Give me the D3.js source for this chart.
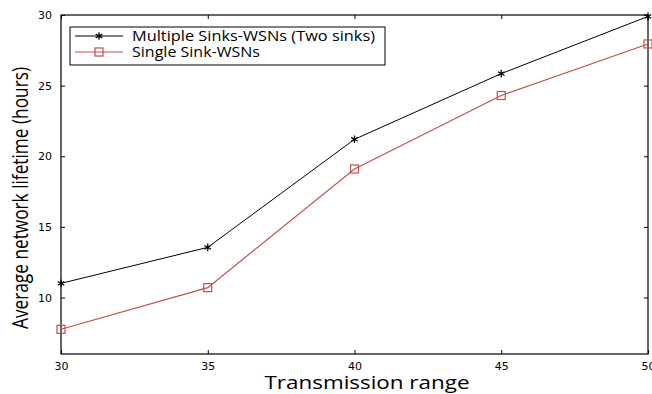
<!DOCTYPE html>
<html>
<head>
<meta charset="utf-8">
<script src="https://cdn.jsdelivr.net/npm/d3@7"></script>
<style>
  body { margin: 0; background: #fff; }
  svg { display: block; }
</style>
</head>
<body>
<script>
// data
const ranges = [30, 35, 40, 45, 50];
const multiSink = [11.0, 13.55, 21.2, 25.85, 29.9];
const singleSink = [7.75, 10.7, 19.1, 24.3, 27.95];
const xTicks = [30, 35, 40, 45, 50];
const yTicks = [10, 15, 20, 25, 30];
const seriesNames = ["Multiple Sinks-WSNs (Two sinks)", "Single Sink-WSNs"];

const width = 652, height = 394;
const margin = { top: 15, right: 4, bottom: 40, left: 61 };

const svg = d3.select("body").append("svg")
  .attr("width", width)
  .attr("height", height);

const x = d3.scaleLinear().domain([30, 50]).range([margin.left, width - margin.right]);
const y = d3.scaleLinear().domain([6, 30]).range([height - margin.bottom, margin.top]);

const tickFont = "11px 'DejaVu Sans', sans-serif";

// box
svg.append("rect")
  .attr("x", x(30)).attr("y", y(30))
  .attr("width", x(50) - x(30)).attr("height", y(6) - y(30))
  .attr("fill", "none").attr("stroke", "#000").attr("stroke-width", 1.2);

// axes with inward ticks
const xAxis = svg.append("g")
  .attr("transform", `translate(0,${y(6)})`)
  .call(d3.axisBottom(x).tickValues(xTicks).tickSizeInner(-4).tickSizeOuter(0).tickPadding(8));
const xTop = svg.append("g")
  .attr("transform", `translate(0,${y(30)})`)
  .call(d3.axisTop(x).tickValues(xTicks).tickSizeInner(-4).tickSizeOuter(0).tickFormat(""));
const yAxis = svg.append("g")
  .attr("transform", `translate(${x(30)},0)`)
  .call(d3.axisLeft(y).tickValues(yTicks).tickSizeInner(-4).tickSizeOuter(0).tickPadding(9));
const yRight = svg.append("g")
  .attr("transform", `translate(${x(50)},0)`)
  .call(d3.axisRight(y).tickValues(yTicks).tickSizeInner(-4).tickSizeOuter(0).tickFormat(""));

[xAxis, xTop, yAxis, yRight].forEach(g => {
  g.select(".domain").remove();
  g.selectAll("text").style("font", tickFont).attr("fill", "#000");
});

// axis titles
svg.append("text")
  .attr("x", 367).attr("y", 389)
  .attr("text-anchor", "middle")
  .style("font", "18px 'Open Sans', sans-serif")
  .attr("textLength", 205).attr("lengthAdjust", "spacingAndGlyphs")
  .text("Transmission range");

svg.append("text")
  .attr("transform", `translate(28,198) rotate(-90)`)
  .attr("text-anchor", "middle")
  .style("font", "21px 'Open Sans', sans-serif")
  .attr("textLength", 262).attr("lengthAdjust", "spacingAndGlyphs")
  .text("Average network lifetime (hours)");

// lines
const line = d3.line().x((d, i) => x(ranges[i])).y(d => y(d));

svg.append("path").datum(multiSink)
  .attr("d", line).attr("fill", "none").attr("stroke", "#000").attr("stroke-width", 1);
svg.append("path").datum(singleSink)
  .attr("d", line).attr("fill", "none").attr("stroke", "#c0504d").attr("stroke-width", 1.2);

const star = d3.symbol().type(d3.symbolAsterisk).size(40);
function drawStar(g, cx, cy) {
  g.append("path").attr("d", star())
    .attr("transform", `translate(${cx},${cy})`)
    .attr("fill", "none").attr("stroke", "#000").attr("stroke-width", 1.3);
}
function drawSquare(g, cx, cy) {
  g.append("rect").attr("x", cx - 4).attr("y", cy - 4).attr("width", 8).attr("height", 8)
    .attr("fill", "none").attr("stroke", "#c0504d").attr("stroke-width", 1.2);
}

multiSink.forEach((v, i) => drawStar(svg, x(ranges[i]), y(v)));
singleSink.forEach((v, i) => drawSquare(svg, x(ranges[i]), y(v)));

// legend
const lg = svg.append("g");
lg.append("rect")
  .attr("x", 70).attr("y", 27).attr("width", 315).attr("height", 38)
  .attr("fill", "#fff").attr("stroke", "#000").attr("stroke-width", 1);
const rows = [36, 52];
const legendLen = [243, 128];
seriesNames.forEach((name, i) => {
  const cy = rows[i];
  lg.append("line").attr("x1", 75).attr("x2", 123).attr("y1", cy).attr("y2", cy)
    .attr("stroke", i === 0 ? "#000" : "#c0504d").attr("stroke-width", 1);
  if (i === 0) drawStar(lg, 99, cy); else drawSquare(lg, 99, cy);
  lg.append("text").attr("x", 132).attr("y", cy + 5)
    .style("font", "14px 'Open Sans', sans-serif")
    .attr("textLength", legendLen[i]).attr("lengthAdjust", "spacingAndGlyphs")
    .text(name);
});
</script>
</body>
</html>
